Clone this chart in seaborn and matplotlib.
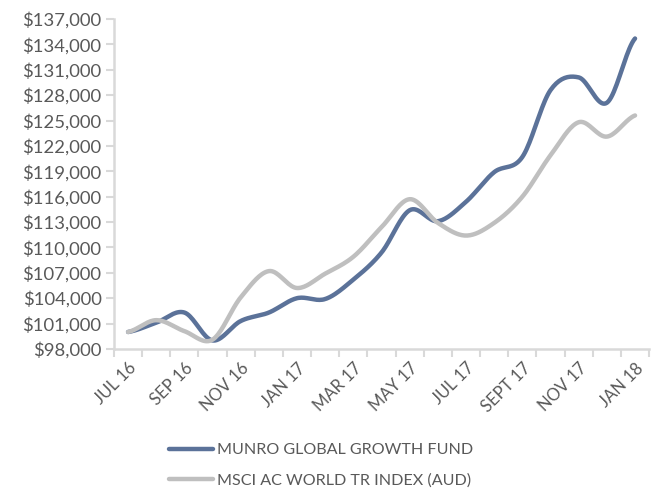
import numpy as np
import pandas as pd
import matplotlib.pyplot as plt
import seaborn as sns

# Monthly values, Jul 16 - Jan 18
months = ["JUL 16", "AUG 16", "SEP 16", "OCT 16", "NOV 16", "DEC 16", "JAN 17",
          "FEB 17", "MAR 17", "APR 17", "MAY 17", "JUN 17", "JUL 17", "AUG 17",
          "SEPT 17", "OCT 17", "NOV 17", "DEC 17", "JAN 18"]
munro = [100000, 101100, 102300, 99000, 101300, 102300, 104000, 103900, 106200,
         109400, 114400, 113100, 115400, 118900, 120700, 128600, 130100, 127100, 134700]
msci = [100000, 101400, 100100, 99100, 104100, 107200, 105200, 106900, 108900,
        112400, 115700, 112900, 111400, 112900, 116000, 120900, 124800, 123100, 125600]
series_names = ["MUNRO GLOBAL GROWTH FUND", "MSCI AC WORLD TR INDEX (AUD)"]
colors = ["#5B7299", "#BFBFBF"]
yticks = list(range(98000, 137001, 3000))


def smooth(y, n=20):
    # Excel-style smoothed line (Catmull-Rom through the points)
    y = np.asarray(y, dtype=float)
    p = np.concatenate([[y[0]], y, [y[-1]]])
    xs, ys = [], []
    for i in range(len(y) - 1):
        p0, p1, p2, p3 = p[i], p[i + 1], p[i + 2], p[i + 3]
        t = np.linspace(0, 1, n, endpoint=False)
        seg = 0.5 * ((2 * p1) + (-p0 + p2) * t + (2 * p0 - 5 * p1 + 4 * p2 - p3) * t ** 2
                     + (-p0 + 3 * p1 - 3 * p2 + p3) * t ** 3)
        xs.extend(i + t)
        ys.extend(seg)
    xs.append(len(y) - 1)
    ys.append(y[-1])
    return np.array(xs), np.array(ys)


sns.set_style("white")
plt.rcParams['font.family'] = ['Lato', 'DejaVu Sans']

fig = plt.figure(figsize=(6.57, 4.88), dpi=100)
ax = fig.add_axes([0.1735, 0.285, 0.8145, 0.676])

for vals, name, c in zip([munro, msci], series_names, colors):
    xs, ys = smooth(vals)
    sns.lineplot(x=xs, y=ys, ax=ax, color=c, lw=3.2, label=name, sort=False,
                 solid_capstyle='round')

ax.set_xlim(-0.5, len(months) - 0.5)
ax.set_ylim(98000, 137000)
ax.set_yticks(yticks)
ax.set_yticklabels([f"${v:,}" for v in yticks])

idx = np.arange(len(months))
ax.set_xticks(idx[::2])
ax.set_xticklabels(months[::2], rotation=45, ha='right', rotation_mode='anchor')
ax.set_xticks(np.arange(-0.5, len(months), 1), minor=True)
ax.tick_params(axis='x', which='major', length=0, pad=8, labelsize=12, labelcolor='#595959')
ax.tick_params(axis='x', which='minor', length=6, width=1.5, color='#D9D9D9', bottom=True)
ax.tick_params(axis='y', length=6, width=1.5, color='#D9D9D9', left=True,
               labelsize=13.3, labelcolor='#595959', pad=3)

for s in ['top', 'right']:
    ax.spines[s].set_visible(False)
for s in ['left', 'bottom']:
    ax.spines[s].set_color('#D9D9D9')
    ax.spines[s].set_linewidth(1.8)

ax.set_xlabel("")
ax.set_ylabel("")
ax.legend_.remove()
handles, labels = ax.get_legend_handles_labels()
leg = fig.legend(handles, labels, loc='upper left', bbox_to_anchor=(0.245, 0.109),
                 frameon=False, fontsize=11.6, handlelength=2.75, handletextpad=0.25,
                 labelspacing=1.0, borderpad=0)
for t in leg.get_texts():
    t.set_color('#595959')

fig.savefig("out.png", dpi=100)
